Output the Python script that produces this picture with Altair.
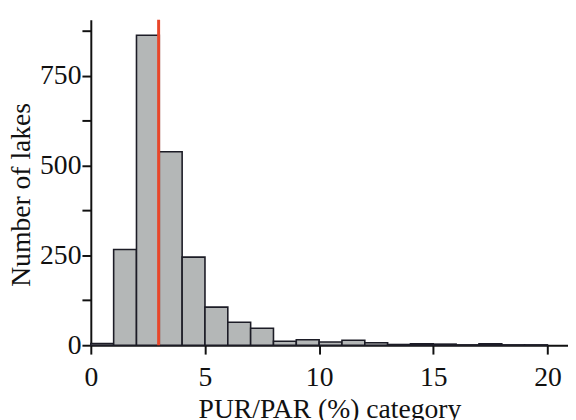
import altair as alt
import pandas as pd

bin_start = list(range(0, 20))
counts = [5, 266, 862, 538, 245, 106, 64, 47, 11, 15, 9, 14, 7, 2, 4, 3, 1, 4, 1, 1]
median_line = [2.97]

df = pd.DataFrame({
    "start": bin_start,
    "end": [b + 1 for b in bin_start],
    "count": counts,
})
rule_df = pd.DataFrame({"x": median_line})

FONT = "Liberation Serif"

x_scale = alt.Scale(domain=[0, 20.9], nice=False, zero=False)
y_scale = alt.Scale(domain=[0, 905], nice=False)

bars = alt.Chart(df).mark_rect(
    fill="#b4b7b7", stroke="#1c1c26", strokeWidth=1.6
).encode(
    x=alt.X("start:Q", scale=x_scale,
            axis=alt.Axis(values=[0, 5, 10, 15, 20], title="PUR/PAR (%) category",
                          grid=False, domainColor="#111", domainWidth=2,
                          tickColor="#111", tickWidth=2, tickSize=9,
                          labelFont=FONT, labelFontSize=28, labelColor="#111",
                          labelPadding=10, labelFlush=False,
                          titleFont=FONT, titleFontSize=28, titleFontWeight="normal",
                          titleColor="#111", titlePadding=4)),
    x2="end:Q",
    y=alt.Y("count:Q", scale=y_scale,
            axis=alt.Axis(values=[0, 125, 250, 375, 500, 625, 750, 875],
                          labelExpr="datum.value % 250 == 0 ? datum.label : ''",
                          title="Number of lakes",
                          grid=False, domainColor="#111", domainWidth=2,
                          tickColor="#111", tickWidth=2, tickSize=9,
                          labelFont=FONT, labelFontSize=28, labelColor="#111",
                          labelPadding=1, labelFlush=False,
                          titleFont=FONT, titleFontSize=28, titleFontWeight="normal",
                          titleColor="#111", titlePadding=4, titleY=177)),
    y2=alt.datum(0),
)

rule = alt.Chart(rule_df).mark_rule(color="#e8462a", strokeWidth=3).encode(
    x=alt.X("x:Q", scale=x_scale)
)

chart = alt.layer(bars, rule).properties(
    width=484, height=330,
    autosize=alt.AutoSizeParams(type="none"),
    padding={"left": 84, "top": 9, "right": 0, "bottom": 85},
    background="white",
).configure_view(stroke=None)

chart.save("out.html", embed_options={"renderer": "svg", "actions": False})
